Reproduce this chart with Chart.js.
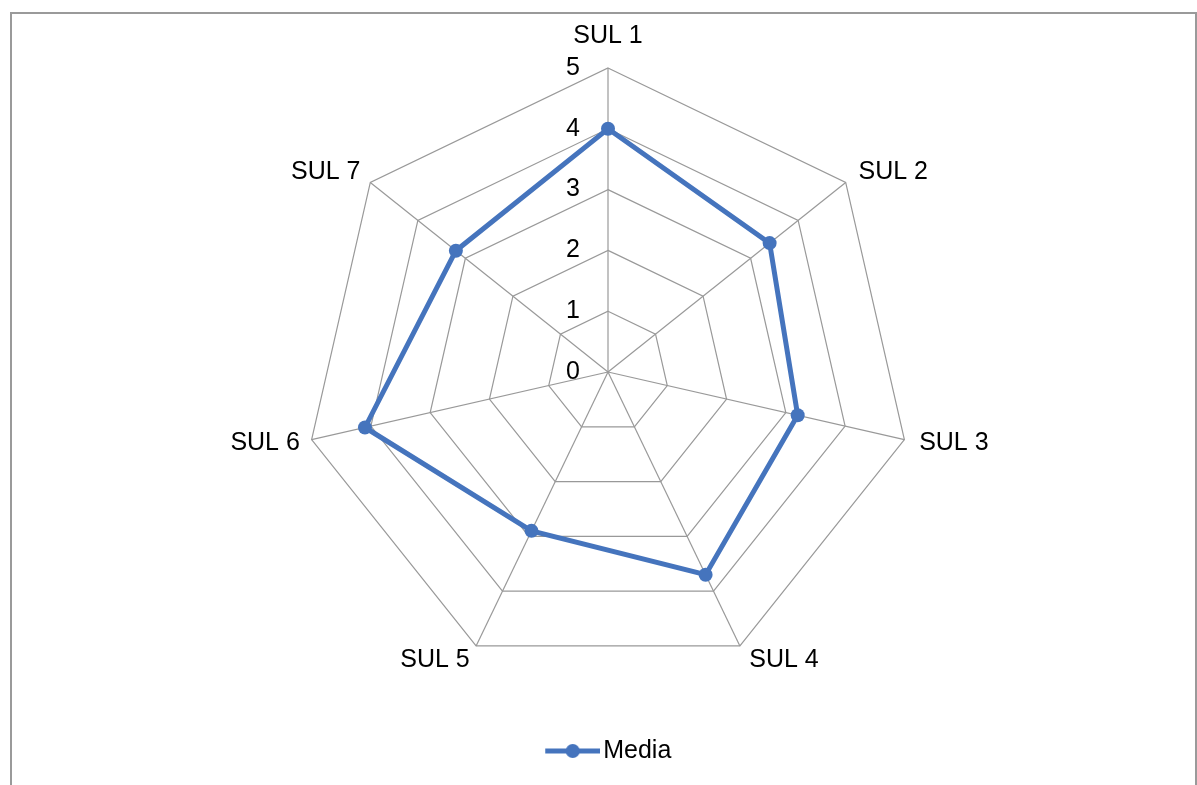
<!DOCTYPE html>
<html>
<head>
<meta charset="utf-8">
<script src="https://cdn.jsdelivr.net/npm/chart.js@4"></script>
<style>
  html, body { margin: 0; padding: 0; background: #fff; overflow: hidden; }
  #frame {
    position: absolute; left: 10px; top: 12px;
    width: 1187px; height: 800px; box-sizing: border-box;
    border: 2px solid #9a9a9a; border-bottom: none;
  }
  #radarChart { position: absolute; left: 0; top: 0; }
</style>
</head>
<body>
<div id="frame"></div>
<canvas id="radarChart" width="1197" height="785"></canvas>
<script>
// ===== datos del gráfico =====
const ejes = ['SUL 1', 'SUL 2', 'SUL 3', 'SUL 4', 'SUL 5', 'SUL 6', 'SUL 7'];
const media = [4.0, 3.4, 3.2, 3.7, 2.9, 4.1, 3.2];
const etiquetasEscala = ['0', '1', '2', '3', '4', '5'];

const azul = '#4574BD';
const fuente = '"Liberation Sans", Arial, sans-serif';

// marca de la leyenda: línea con círculo en el centro (10px de margen a la izquierda)
const marcaLeyenda = document.createElement('canvas');
marcaLeyenda.width = 65;
marcaLeyenda.height = 16;
const g = marcaLeyenda.getContext('2d');
g.strokeStyle = azul;
g.lineWidth = 5;
g.beginPath(); g.moveTo(10, 8); g.lineTo(65, 8); g.stroke();
g.fillStyle = azul;
g.beginPath(); g.arc(37.5, 8, 7, 0, Math.PI * 2); g.fill();

// textos de la escala y de los ejes, colocados con la escala radial
const textosRadar = {
    id: 'textosRadar',
    afterDraw(chart) {
        const scale = chart.scales.r;
        const ctx = chart.ctx;
        ctx.save();
        ctx.font = '25px ' + fuente;
        ctx.fillStyle = '#000';
        ctx.textBaseline = 'middle';

        ctx.textAlign = 'right';
        etiquetasEscala.forEach(t => {
            const p = scale.getPointPositionForValue(0, Number(t));
            ctx.fillText(t, p.x - 28, p.y);
        });

        ejes.forEach((lab, i) => {
            const p = scale.getPointPosition(i, scale.drawingArea + 10);
            const a = scale.getIndexAngle(i);
            const sx = Math.sin(a);
            const cy = -Math.cos(a);
            if (Math.abs(sx) < 0.01) {
                ctx.textAlign = 'center';
                ctx.fillText(lab, p.x, p.y - 22);
            } else {
                ctx.textAlign = sx > 0 ? 'left' : 'right';
                ctx.fillText(lab, p.x + (sx > 0 ? 5 : -2), p.y + cy * 6);
            }
        });
        ctx.restore();
    }
};

const ctx = document.getElementById('radarChart').getContext('2d');
new Chart(ctx, {
    type: 'radar',
    data: {
        labels: ejes,
        datasets: [{
            label: 'Media',
            data: media,
            borderColor: azul,
            backgroundColor: azul,
            borderWidth: 5,
            fill: false,
            tension: 0,
            pointRadius: 7,
            pointBackgroundColor: azul,
            pointBorderColor: azul,
            pointBorderWidth: 0
        }]
    },
    options: {
        responsive: false,
        animation: false,
        layout: {
            padding: { left: 304, right: 285, top: 12, bottom: 11.5 }
        },
        plugins: {
            legend: {
                display: true,
                position: 'bottom',
                labels: {
                    usePointStyle: true,
                    pointStyle: marcaLeyenda,
                    pointStyleWidth: 46,
                    padding: 6.5,
                    color: '#000',
                    font: { size: 25, family: fuente }
                }
            },
            tooltip: { enabled: false }
        },
        scales: {
            r: {
                min: 0,
                max: 5,
                ticks: { stepSize: 1, display: false },
                pointLabels: { display: false },
                grid: { color: '#999999', lineWidth: 1.2 },
                angleLines: { color: '#999999', lineWidth: 1.2 }
            }
        }
    },
    plugins: [textosRadar]
});
</script>
</body>
</html>
